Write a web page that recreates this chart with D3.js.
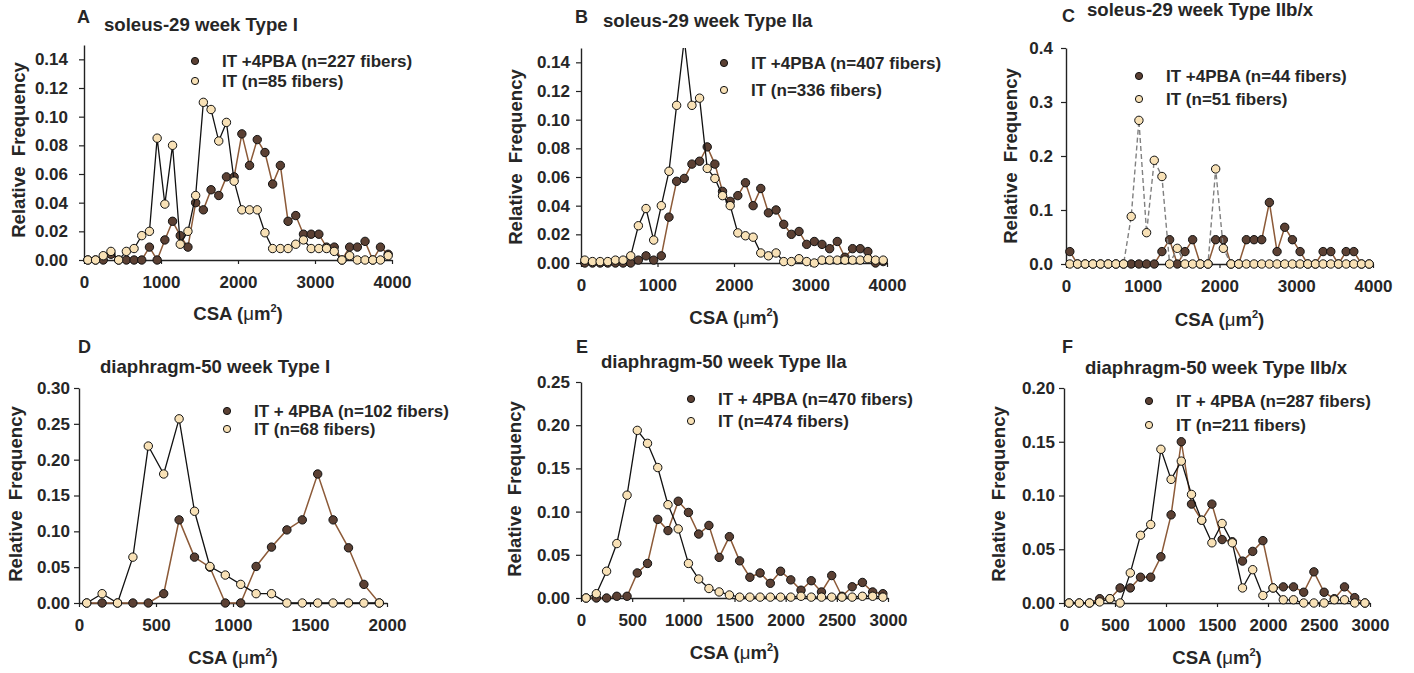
<!DOCTYPE html>
<html>
<head>
<meta charset="utf-8">
<script src="https://cdn.jsdelivr.net/npm/d3@7"></script>
<style>
  body { margin: 0; background: #fff; }
  svg text { font-family: "Liberation Sans", Arial, sans-serif; font-weight: bold; fill: #262626; }
</style>
</head>
<body>
<div id="chart"></div>
<script>
// bin centres (µm²)
const bins4000 = [50,150,250,350,450,550,650,750,850,950,1050,1150,1250,1350,1450,1550,1650,1750,1850,1950,
                  2050,2150,2250,2350,2450,2550,2650,2750,2850,2950,3050,3150,3250,3350,3450,3550,3650,3750,3850,3950];
const bins2000 = [50,150,250,350,450,550,650,750,850,950,1050,1150,1250,1350,1450,1550,1650,1750,1850,1950];
const bins3000 = [50,150,250,350,450,550,650,750,850,950,1050,1150,1250,1350,1450,1550,1650,1750,1850,1950,
                  2050,2150,2250,2350,2450,2550,2650,2750,2850,2950];

// A: soleus-29 week Type I
const aPBA = [0,0,0,0.004,0,0,0,0,0.009,0,0.014,0.027,0.017,0.009,0.040,0.035,0.049,0.045,0.058,0.058,
              0.088,0.066,0.084,0.075,0.053,0.066,0.027,0.031,0.018,0.018,0.018,0.009,0.009,0,0.009,0.009,0.013,0,0.009,0.004];
const aIT  = [0,0,0.003,0.006,0,0.006,0.008,0.017,0.020,0.085,0.039,0.080,0.011,0.020,0.045,0.110,0.105,0.083,0.096,0.055,
              0.035,0.035,0.035,0.019,0.008,0.008,0.008,0.011,0.014,0.008,0.008,0.008,0.006,0,0.003,0,0,0,0,0.003];
// B: soleus-29 week Type IIa
const bPBA = [0,0,0,0,0,0,0,0.002,0.005,0.002,0.005,0.032,0.057,0.059,0.069,0.071,0.081,0.069,0.050,0.043,
              0.047,0.056,0.040,0.052,0.035,0.037,0.027,0.020,0.022,0.013,0.015,0.013,0.010,0.015,0.004,0.010,0.010,0.008,0,0.001];
const bIT  = [0.002,0.001,0.001,0.001,0.002,0.002,0.005,0.026,0.038,0.016,0.040,0.064,0.110,0.156,0.110,0.115,0.066,0.059,0.047,0.040,
              0.021,0.019,0.018,0.007,0.005,0.007,0.001,0.001,0.003,0.001,0,0.002,0.002,0.002,0.002,0.002,0.002,0.003,0.002,0.002];
// C: soleus-29 week Type IIb/x
const cPBA = [0.023,0,0,0,0,0,0,0,0,0,0,0,0.023,0.045,0,0.023,0.045,0,0,0.045,
              0.045,0,0,0.045,0.045,0.045,0.114,0.023,0.068,0.045,0.023,0,0,0.023,0.023,0,0.023,0.023,0,0];
const cIT  = [0,0,0,0,0,0,0,0,0.088,0.266,0.058,0.192,0.162,0,0.029,0,0,0,0,0.176,
              0.029,0,0,0,0,0,0,0,0,0,0,0,0,0,0,0,0,0,0,0];
// D: diaphragm-50 week Type I
const dPBA = [0,0,0,0,0,0.013,0.116,0.064,0.050,0,0,0.051,0.078,0.102,0.116,0.180,0.116,0.077,0.026,0];
const dIT  = [0,0.013,0,0.064,0.219,0.180,0.257,0.128,0.051,0.039,0.026,0.013,0.013,0,0,0,0,0,0,0];
// E: diaphragm-50 week Type IIa
const ePBA = [0,0,0,0.002,0.002,0.029,0.040,0.091,0.078,0.112,0.099,0.074,0.084,0.047,0.071,0.043,0.024,0.029,0.017,0.031,
              0.021,0.009,0.020,0.007,0.026,0.002,0.013,0.018,0.007,0.005];
const eIT  = [0,0.005,0.031,0.063,0.119,0.194,0.179,0.151,0.108,0.080,0.040,0.022,0.011,0.007,0.0035,0.001,0.001,0.001,0.001,0.001,
              0.001,0.002,0.001,0.001,0.001,0.001,0.001,0.002,0.002,0.001];
// F: diaphragm-50 week Type IIb/x
const fPBA = [0,0,0,0.004,0.004,0.014,0.014,0.024,0.024,0.043,0.082,0.150,0.092,0.077,0.092,0.059,0.057,0.039,0.048,0.058,
              0.014,0.015,0.015,0.010,0.029,0.010,0.004,0.015,0.005,0];
const fIT  = [0,0,0,0.001,0.004,0,0.028,0.063,0.073,0.143,0.115,0.132,0.101,0.077,0.056,0.074,0.056,0.014,0.031,0.007,
              0.014,0.003,0.003,0,0,0,0.003,0.003,0,0];

const ticks4000 = [0,1000,2000,3000,4000];
const ticks2000 = [0,500,1000,1500,2000];
const ticks3000 = [0,500,1000,1500,2000,2500,3000];
const yTicks014 = [0,0.02,0.04,0.06,0.08,0.10,0.12,0.14];
const yTicks04  = [0,0.1,0.2,0.3,0.4];
const yTicks030 = [0,0.05,0.10,0.15,0.20,0.25,0.30];
const yTicks025 = [0,0.05,0.10,0.15,0.20,0.25];
const yTicks020 = [0,0.05,0.10,0.15,0.20];

const panels = [
  { letter:"A", title:"soleus-29 week Type I", bins:bins4000, pba:aPBA, it:aIT, xMax:4000, xTicks:ticks4000, yMax:0.15, yTicks:yTicks014, fmt:".2f",
    legend:["IT +4PBA (n=227 fibers)","IT (n=85 fibers)"], dashed:false,
    x0:84, w:308, top:45, bot:260, pad:11, letterXY:[77,23], titleXY:[104,31], legX:195, legY:61, legDy:20, ylab:[25,150], xlabY:320 },
  { letter:"B", title:"soleus-29 week Type IIa", bins:bins4000, pba:bPBA, it:bIT, xMax:4000, xTicks:ticks4000, yMax:0.15, yTicks:yTicks014, fmt:".2f",
    legend:["IT +4PBA (n=407 fibers)","IT (n=336 fibers)"], dashed:false,
    x0:581, w:306, top:48, bot:263, pad:6, letterXY:[575,23], titleXY:[603,27], legX:724, legY:63, legDy:27, ylab:[522,157], xlabY:324 },
  { letter:"C", title:"soleus-29 week Type IIb/x", bins:bins4000, pba:cPBA, it:cIT, xMax:4000, xTicks:ticks4000, yMax:0.4, yTicks:yTicks04, fmt:".1f",
    legend:["IT +4PBA (n=44 fibers)","IT (n=51 fibers)"], dashed:true,
    x0:1066, w:307, top:48, bot:264, pad:8, letterXY:[1062,22], titleXY:[1087,16], legX:1139, legY:76, legDy:23, ylab:[1017,156], xlabY:326 },
  { letter:"D", title:"diaphragm-50 week Type I", bins:bins2000, pba:dPBA, it:dIT, xMax:2000, xTicks:ticks2000, yMax:0.30, yTicks:yTicks030, fmt:".2f",
    legend:["IT + 4PBA (n=102 fibers)","IT (n=68 fibers)"], dashed:false,
    x0:79, w:308, top:388, bot:603, pad:4, letterXY:[78,353], titleXY:[100,373], legX:227, legY:411, legDy:18, ylab:[22,494], xlabY:664 },
  { letter:"E", title:"diaphragm-50 week Type IIa", bins:bins3000, pba:ePBA, it:eIT, xMax:3000, xTicks:ticks3000, yMax:0.25, yTicks:yTicks025, fmt:".2f",
    legend:["IT + 4PBA (n=470 fibers)","IT (n=474 fibers)"], dashed:false,
    x0:581, w:307, top:382, bot:598, pad:6, letterXY:[576,353], titleXY:[601,368], legX:691, legY:399, legDy:22, ylab:[521,489], xlabY:659 },
  { letter:"F", title:"diaphragm-50 week Type IIb/x", bins:bins3000, pba:fPBA, it:fIT, xMax:3000, xTicks:ticks3000, yMax:0.20, yTicks:yTicks020, fmt:".2f",
    legend:["IT + 4PBA (n=287 fibers)","IT (n=211 fibers)"], dashed:false,
    x0:1064, w:306, top:388, bot:603, pad:4, letterXY:[1062,353], titleXY:[1085,374], legX:1149, legY:401, legDy:24, ylab:[1005,494], xlabY:664 }
];

const W = 1414, H = 673;
const DARK = "#5b4033", LIGHT = "#f8e1b6", BROWN = "#8c5a38", INK = "#222";

const svg = d3.select("#chart").append("svg").attr("width", W).attr("height", H);

panels.forEach((p, k) => {
  const x = d3.scaleLinear().domain([0, p.xMax]).range([p.x0, p.x0 + p.w]);
  const y = d3.scaleLinear().domain([0, p.yMax]).range([p.bot, p.top]);
  const g = svg.append("g");

  g.append("text").attr("x", p.letterXY[0]).attr("y", p.letterXY[1]).style("font-size", "18px").text(p.letter);
  g.append("text").attr("x", p.titleXY[0]).attr("y", p.titleXY[1]).style("font-size", "18.6px").text(p.title);

  // axes
  const ya = g.append("g").attr("transform", `translate(${p.x0},0)`)
    .call(d3.axisLeft(y).tickValues(p.yTicks).tickFormat(d3.format(p.fmt)).tickSize(5).tickSizeOuter(0).tickPadding(p.pad));
  const xa = g.append("g").attr("transform", `translate(0,${p.bot})`)
    .call(d3.axisBottom(x).tickValues(p.xTicks).tickFormat(d3.format("d")).tickSize(4).tickSizeOuter(0).tickPadding(12));
  [ya, xa].forEach(a => {
    a.select(".domain").attr("stroke", INK).attr("stroke-width", 1.4);
    a.selectAll(".tick line").attr("stroke", INK).attr("stroke-width", 1.2);
    a.selectAll(".tick text").style("font-size", "17px").attr("fill", INK);
  });

  // axis titles
  g.append("text").attr("transform", `translate(${p.ylab[0]},${p.ylab[1]}) rotate(-90)`)
    .attr("text-anchor", "middle").style("font-size", "18.6px").style("white-space", "pre")
    .text("Relative  Frequency");
  const xl = g.append("text").attr("x", p.x0 + p.w / 2).attr("y", p.xlabY)
    .attr("text-anchor", "middle").style("font-size", "18.6px");
  xl.append("tspan").text("CSA (");
  xl.append("tspan").style("font-weight", "normal").text("\u03bc");
  xl.append("tspan").text("m");
  xl.append("tspan").attr("dy", -8).style("font-size", "11px").text("2");
  xl.append("tspan").attr("dy", 8).text(")");

  // clip to plot box
  const cid = "clip" + k;
  svg.append("clipPath").attr("id", cid).append("rect")
    .attr("x", p.x0 - 8).attr("y", p.top).attr("width", p.w + 16).attr("height", p.bot - p.top + 10);
  const plot = g.append("g").attr("clip-path", `url(#${cid})`);

  const line = d3.line().x((d, i) => x(p.bins[i])).y(d => y(d));

  plot.append("path").datum(p.pba).attr("d", line).attr("fill", "none")
    .attr("stroke", BROWN).attr("stroke-width", 1.5);
  plot.selectAll(".pba").data(p.pba).join("circle").attr("class", "pba")
    .attr("cx", (d, i) => x(p.bins[i])).attr("cy", d => y(d)).attr("r", 4.2)
    .attr("fill", DARK).attr("stroke", "#111").attr("stroke-width", 1);

  plot.append("path").datum(p.it).attr("d", line).attr("fill", "none")
    .attr("stroke", p.dashed ? "#808080" : "#111").attr("stroke-width", p.dashed ? 1.4 : 1.3)
    .attr("stroke-dasharray", p.dashed ? "5,3" : null);
  plot.selectAll(".it").data(p.it).join("circle").attr("class", "it")
    .attr("cx", (d, i) => x(p.bins[i])).attr("cy", d => y(d)).attr("r", 4.2)
    .attr("fill", LIGHT).attr("stroke", "#111").attr("stroke-width", 1);

  // legend
  [[DARK, p.legend[0]], [LIGHT, p.legend[1]]].forEach(([fill, label], j) => {
    const ly = p.legY + j * p.legDy;
    g.append("circle").attr("cx", p.legX).attr("cy", ly).attr("r", 3.6)
      .attr("fill", fill).attr("stroke", "#111").attr("stroke-width", 1);
    g.append("text").attr("x", p.legX + 27).attr("y", ly + 6).style("font-size", "17px").text(label);
  });
});
</script>
</body>
</html>
